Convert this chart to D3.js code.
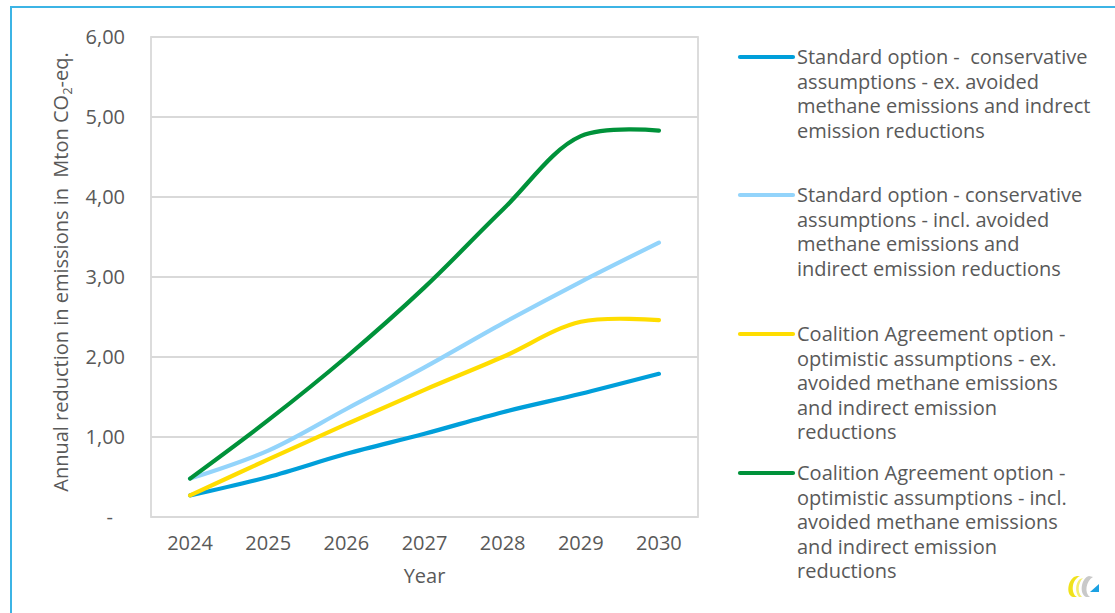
<!DOCTYPE html>
<html><head><meta charset="utf-8">
<script src="https://cdn.jsdelivr.net/npm/d3@7"></script>
<style>
body{margin:0;background:#fff}
text{font-family:"Open Sans",sans-serif;fill:#595959;white-space:pre}
</style>
</head><body><svg id="c" width="1115" height="613"></svg>
<script>
const years = ["2024","2025","2026","2027","2028","2029","2030"];
const standardEx    = [0.27,0.50,0.79,1.04,1.31,1.54,1.79];
const standardIncl  = [0.48,0.83,1.35,1.87,2.42,2.94,3.43];
const coalitionEx   = [0.27,0.72,1.16,1.59,2.00,2.44,2.46];
const coalitionIncl = [0.48,1.21,2.00,2.87,3.84,4.76,4.83];
const yTicks = [0,1,2,3,4,5,6];
const yTickLabels = ["-","1,00","2,00","3,00","4,00","5,00","6,00"];
const seriesColors = ["#009fda","#93d4fb","#ffdd00","#00923a"];
const seriesLegend = [
  ["Standard option -  conservative","assumptions - ex. avoided","methane emissions and indrect","emission reductions"],
  ["Standard option - conservative","assumptions - incl. avoided","methane emissions and","indirect emission reductions"],
  ["Coalition Agreement option -","optimistic assumptions - ex.","avoided methane emissions","and indirect emission","reductions"],
  ["Coalition Agreement option -","optimistic assumptions - incl.","avoided methane emissions","and indirect emission","reductions"]
];
const seriesValues = [standardEx, standardIncl, coalitionEx, coalitionIncl];

const svg = d3.select("#c");
const fs = 20;

// outer frame
svg.append("rect").attr("x",11).attr("y",7).attr("width",1200).attr("height",700)
  .attr("fill","none").attr("stroke","#3cb4e5").attr("stroke-width",2);

const L=151, R=698, T=37, B=517;
const x = d3.scalePoint().domain(years).range([L,R]).padding(0.5);
const y = d3.scaleLinear().domain([0,6]).range([B,T]);

// gridlines
svg.append("g").selectAll("line").data(yTicks).join("line")
  .attr("x1",L).attr("x2",R).attr("y1",d=>y(d)).attr("y2",d=>y(d))
  .attr("stroke","#d9d9d9").attr("stroke-width",1.8);
svg.append("rect").attr("x",L).attr("y",T).attr("width",R-L).attr("height",B-T)
  .attr("fill","none").attr("stroke","#d9d9d9").attr("stroke-width",1.8);

// y tick labels
svg.append("g").selectAll("text").data(yTicks).join("text")
  .attr("x",d=>d===0?113:125).attr("y",d=>y(d)).attr("dy","0.35em")
  .attr("text-anchor","end").attr("font-size",fs)
  .text((d,i)=>yTickLabels[i]);

// x tick labels
svg.append("g").selectAll("text").data(years).join("text")
  .attr("x",d=>x(d)).attr("y",543).attr("dy","0.35em")
  .attr("text-anchor","middle").attr("font-size",fs).text(d=>d);

svg.append("text").attr("x",(L+R)/2).attr("y",576).attr("dy","0.35em")
  .attr("text-anchor","middle").attr("font-size",fs).text("Year");

// y label
const yl = svg.append("text").attr("transform","translate(68,272) rotate(-90)")
  .attr("text-anchor","middle").attr("font-size",fs);
yl.append("tspan").text("Annual reduction in emissions in  Mton CO");
yl.append("tspan").attr("font-size",13).attr("dy",4).text("2");
yl.append("tspan").attr("dy",-4).text("-eq.");

// lines
const line = d3.line().x((d,i)=>x(years[i])).y(d=>y(d)).curve(d3.curveCatmullRom.alpha(0.5));
svg.append("g").selectAll("path").data(seriesValues).join("path")
  .attr("d",d=>line(d)).attr("fill","none")
  .attr("stroke",(d,i)=>seriesColors[i]).attr("stroke-width",4.2)
  .attr("stroke-linecap","round").attr("stroke-linejoin","round");

// legend
const legY = [57,195,334,473];
const lg = svg.append("g");
seriesLegend.forEach((lines,i)=>{
  lg.append("line").attr("x1",740).attr("x2",793).attr("y1",legY[i]).attr("y2",legY[i])
    .attr("stroke",seriesColors[i]).attr("stroke-width",4.2).attr("stroke-linecap","round");
  const t = lg.append("text").attr("x",797).attr("y",legY[i]).attr("font-size",fs);
  lines.forEach((s,j)=>{
    t.append("tspan").attr("x",797).attr("dy", j===0 ? "0.35em" : 24.5).text(s);
  });
});

// logo
const logo = svg.append("g").attr("transform","translate(1065,575)");
logo.append("path").attr("d","M12,1 C3,2 0,20 8,22 L12,22 C6,19 6,5 15,1 Z").attr("fill","#f0e21a");
logo.append("path").attr("d","M15,4 C10,8 10,18 14,22 L17,22 C12,17 13,8 18,3 Z").attr("fill","#f6ee70");
logo.append("path").attr("d","M24,1 C16,3 14,19 21,22 L25,22 C19,18 21,6 28,2 Z").attr("fill","#c9c9c9");
logo.append("path").attr("d","M25,17 L34,17 L34,9 Z").attr("fill","#1ba1e2");
</script>
</body></html>
